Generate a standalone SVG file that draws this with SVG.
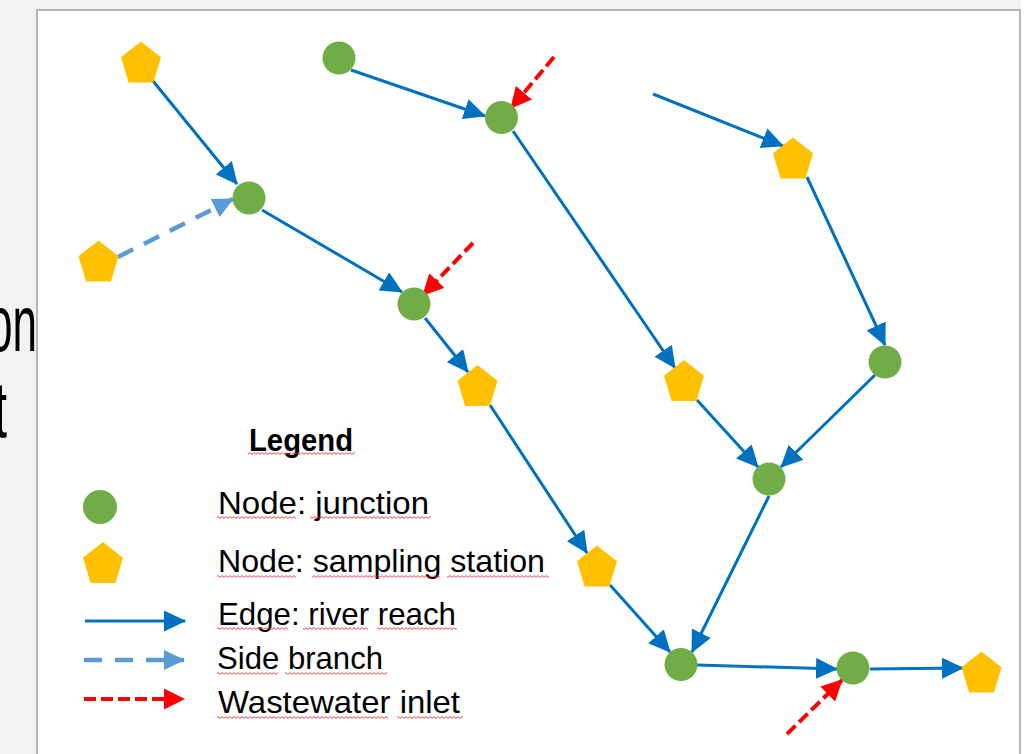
<svg xmlns="http://www.w3.org/2000/svg" width="1035" height="754" viewBox="0 0 1035 754">
  <style>
    .edge { stroke: #0070c0; stroke-width: 3; fill: none; marker-end: url(#ah); }
    .side { stroke: #5b9bd5; stroke-width: 4.5; fill: none; stroke-dasharray: 17 12; marker-end: url(#ahl); }
    .waste { stroke: #ff0000; stroke-width: 4; fill: none; stroke-dasharray: 12 5; marker-end: url(#ahr); }
    .junction { fill: #70ad47; }
    .station { fill: #ffc000; }
    .lbl { font-family: "Liberation Sans", Arial, sans-serif; font-size: 32px; fill: #000; }
    .big { font-family: "Liberation Sans", Arial, sans-serif; font-size: 80px; fill: #000; }
  </style>
  <defs>
    <marker id="ah" viewBox="0 0 22 21" markerWidth="22" markerHeight="21" markerUnits="userSpaceOnUse" refX="21" refY="10.5" orient="auto">
      <path d="M0,0 L22,10.5 L0,21 z" fill="#0070c0"/>
    </marker>
    <marker id="ahl" viewBox="0 0 21 20" markerWidth="21" markerHeight="20" markerUnits="userSpaceOnUse" refX="20" refY="10" orient="auto">
      <path d="M0,0 L21,10 L0,20 z" fill="#5b9bd5"/>
    </marker>
    <marker id="ahr" viewBox="0 0 21 21" markerWidth="21" markerHeight="21" markerUnits="userSpaceOnUse" refX="20" refY="10.5" orient="auto">
      <path d="M0,0 L21,10.5 L0,21 z" fill="#ff0000"/>
    </marker>
    <polygon id="pent" points="0,-20.5 20,-4.8 12.4,20.5 -12.4,20.5 -20,-4.8"/>
    <pattern id="sq" width="4" height="3" patternUnits="userSpaceOnUse">
      <path d="M0,2.4 L2,0.6 L4,2.4" fill="none" stroke="#e03030" stroke-width="0.9"/>
    </pattern>
  </defs>

  <!-- background slide -->
  <rect x="0" y="0" width="1035" height="754" fill="#f2f2f2"/>
  <rect x="1021" y="0" width="14" height="754" fill="#ffffff"/>
  <text class="big" transform="translate(37,351) scale(0.55,1)" text-anchor="end">on</text>
  <text class="big" transform="translate(7,437) scale(0.55,1)" text-anchor="end">t</text>
  <rect x="37" y="10" width="983" height="760" fill="#ffffff" stroke="#a0a0a0" stroke-width="1.5"/>

  <g id="connectors">
    <line class="edge" x1="153" y1="81" x2="237" y2="184"/>
    <line class="side" x1="118" y1="257" x2="233" y2="199"/>
    <line class="edge" x1="351" y1="70" x2="485" y2="116"/>
    <line class="edge" x1="262" y1="210" x2="402" y2="292"/>
    <line class="edge" x1="513" y1="131" x2="675" y2="368"/>
    <line class="edge" x1="425" y1="318" x2="468" y2="372"/>
    <line class="edge" x1="490" y1="405" x2="587" y2="553"/>
    <line class="edge" x1="653" y1="94" x2="783" y2="146"/>
    <line class="edge" x1="807" y1="177" x2="885" y2="345"/>
    <line class="edge" x1="697" y1="400" x2="758" y2="467"/>
    <line class="edge" x1="875" y1="375" x2="781" y2="467"/>
    <line class="edge" x1="769" y1="496" x2="692" y2="652"/>
    <line class="edge" x1="610" y1="585" x2="670" y2="652"/>
    <line class="edge" x1="697" y1="665" x2="837" y2="669"/>
    <line class="edge" x1="870" y1="669" x2="963" y2="668"/>
    <line class="waste" x1="554" y1="57" x2="511" y2="108"/>
    <line class="waste" x1="473" y1="243" x2="423" y2="295"/>
    <line class="waste" x1="787" y1="734" x2="842" y2="680"/>
  </g>

  <g id="P1"><use href="#pent" class="station" x="141" y="62"/></g>
  <g id="P2"><use href="#pent" class="station" x="98.5" y="261"/></g>
  <g id="P3"><use href="#pent" class="station" x="477.5" y="385.5"/></g>
  <g id="P4"><use href="#pent" class="station" x="684" y="380.5"/></g>
  <g id="P5"><use href="#pent" class="station" x="793" y="158"/></g>
  <g id="P6"><use href="#pent" class="station" x="597" y="566"/></g>
  <g id="P7"><use href="#pent" class="station" x="981.5" y="672"/></g>

  <g id="J1"><circle class="junction" cx="339" cy="58" r="16.5"/></g>
  <g id="J2"><circle class="junction" cx="501.5" cy="117.5" r="16.5"/></g>
  <g id="J3"><circle class="junction" cx="249" cy="198" r="16.5"/></g>
  <g id="J4"><circle class="junction" cx="414" cy="304" r="16.5"/></g>
  <g id="J5"><circle class="junction" cx="885" cy="362" r="16.5"/></g>
  <g id="J6"><circle class="junction" cx="769" cy="479" r="16.5"/></g>
  <g id="J7"><circle class="junction" cx="681" cy="664.5" r="16.5"/></g>
  <g id="J8"><circle class="junction" cx="853" cy="668" r="16.5"/></g>

  <g id="legend">
    <text class="lbl" x="249" y="451" font-weight="bold" font-size="31" textLength="104" lengthAdjust="spacingAndGlyphs">Legend</text>
    <circle class="junction" cx="100" cy="507" r="17"/>
    <use href="#pent" class="station" x="103" y="562.5"/>
    <line class="edge" x1="85" y1="621" x2="185" y2="621"/>
    <line class="side" x1="84" y1="660" x2="184" y2="660" style="stroke-dasharray:18 13"/>
    <line class="waste" x1="84" y1="699" x2="184" y2="699"/>
    <text class="lbl" x="218" y="514" textLength="211" lengthAdjust="spacingAndGlyphs">Node: junction</text>
    <text class="lbl" x="218" y="572" textLength="327" lengthAdjust="spacingAndGlyphs">Node: sampling station</text>
    <text class="lbl" x="218" y="625" textLength="238" lengthAdjust="spacingAndGlyphs">Edge: river reach</text>
    <text class="lbl" x="217" y="669" textLength="166" lengthAdjust="spacingAndGlyphs">Side branch</text>
    <text class="lbl" x="218" y="713" textLength="242" lengthAdjust="spacingAndGlyphs">Wastewater inlet</text>
    <g fill="url(#sq)">
      <g transform="translate(0,452)"><rect x="248" y="0" width="107" height="3"/></g>
      <g transform="translate(0,516)"><rect x="217" y="0" width="79" height="3"/><rect x="310" y="0" width="121" height="3"/></g>
      <g transform="translate(0,575)"><rect x="217" y="0" width="79" height="3"/><rect x="312" y="0" width="128" height="3"/><rect x="447" y="0" width="102" height="3"/></g>
      <g transform="translate(0,627)"><rect x="217" y="0" width="71" height="3"/><rect x="303" y="0" width="65" height="3"/><rect x="377" y="0" width="80" height="3"/></g>
      <g transform="translate(0,672)"><rect x="217" y="0" width="61" height="3"/><rect x="285" y="0" width="102" height="3"/></g>
      <g transform="translate(0,716)"><rect x="217" y="0" width="171" height="3"/><rect x="397" y="0" width="66" height="3"/></g>
    </g>
  </g>
</svg>
